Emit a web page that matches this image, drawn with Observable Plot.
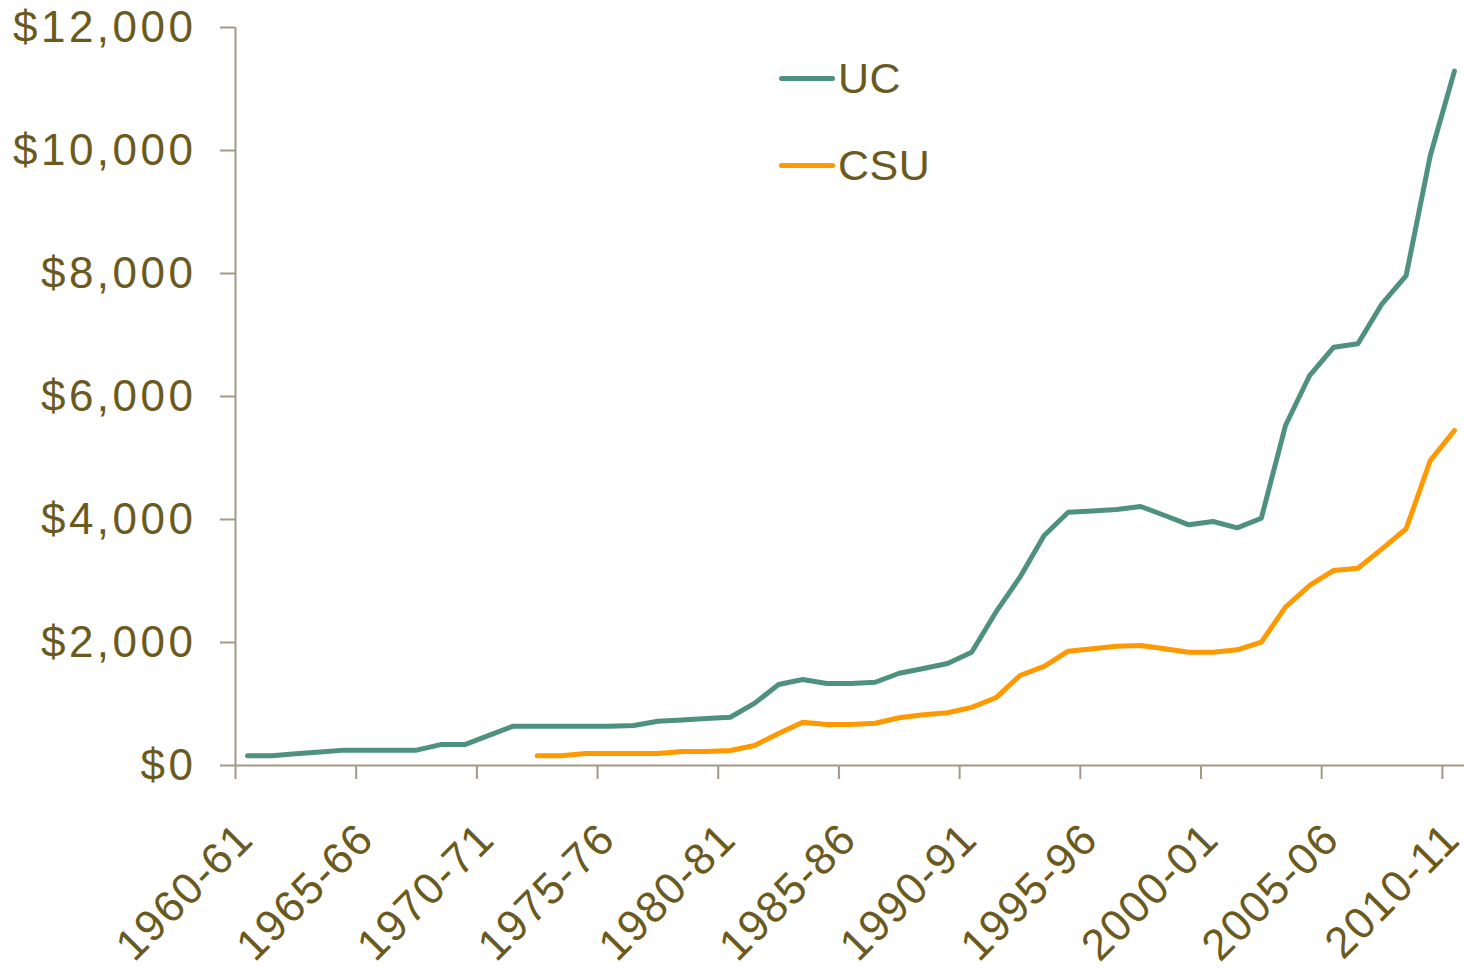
<!DOCTYPE html>
<html>
<head>
<meta charset="utf-8">
<script src="https://cdn.jsdelivr.net/npm/d3@7"></script>
<script src="https://cdn.jsdelivr.net/npm/@observablehq/plot@0.6"></script>
<style>
  html, body { margin: 0; padding: 0; background: #fff; }
  #wrap { position: relative; width: 1464px; height: 972px; font-family: "Liberation Sans", Arial, sans-serif; }
  #wrap svg { display: block; }
  #wrap svg g[aria-label="y-axis tick label"] text { letter-spacing: 3.5px; }
  #wrap svg g[aria-label="text"] text { letter-spacing: 1.5px; }
  .leg { position: absolute; display: flex; align-items: center; font-size: 43px; color: #6b5a20; letter-spacing: 0.5px; }
  .leg span.sw { display: inline-block; width: 56px; height: 5px; border-radius: 3px; margin-right: 3px; }
</style>
</head>
<body>
<div id="wrap"></div>
<script>
const years = ["1960-61","1961-62","1962-63","1963-64","1964-65","1965-66","1966-67","1967-68","1968-69","1969-70",
  "1970-71","1971-72","1972-73","1973-74","1974-75","1975-76","1976-77","1977-78","1978-79","1979-80",
  "1980-81","1981-82","1982-83","1983-84","1984-85","1985-86","1986-87","1987-88","1988-89","1989-90",
  "1990-91","1991-92","1992-93","1993-94","1994-95","1995-96","1996-97","1997-98","1998-99","1999-00",
  "2000-01","2001-02","2002-03","2003-04","2004-05","2005-06","2006-07","2007-08","2008-09","2009-10","2010-11"];

const ucFees = [160,160,190,220,250,250,250,250,340,340,
  490,640,640,640,640,640,650,720,740,764,
  785,1010,1317,1398,1333,1333,1354,1500,1577,1658,
  1842,2493,3062,3740,4119,4140,4163,4211,4065,3913,
  3967,3865,4021,5528,6341,6802,6857,7507,7967,9919,11290];

const csuFees = [null,null,null,null,null,null,null,null,null,null,
  null,null,160,160,195,195,195,195,228,228,
  244,325,520,704,667,667,688,776,824,857,
  945,1101,1463,1612,1858,1900,1940,1951,1897,1843,
  1843,1881,2005,2574,2927,3171,3208,3523,3849,4959,5447];

const tickLabels = ["1960-61","1965-66","1970-71","1975-76","1980-81","1985-86","1990-91","1995-96","2000-01","2005-06","2010-11"];
const yTicks = [0,2000,4000,6000,8000,10000,12000];
const seriesNames = ["UC","CSU"];
const seriesColors = ["#4f9180","#ff9900"];

const textColor = "#6b5a20";
const axisColor = "#a39a86";

const rows = [];
years.forEach((y, i) => {
  rows.push({year: y, idx: i, series: "UC", value: ucFees[i]});
  rows.push({year: y, idx: i, series: "CSU", value: csuFees[i]});
});
const labelRows = tickLabels.map(l => ({label: l, idx: years.indexOf(l)}));
const boundaryTicks = labelRows.map(d => d.idx);

const chart = Plot.plot({
  width: 1464,
  height: 972,
  marginLeft: 235,
  marginTop: 27,
  marginBottom: 207,
  marginRight: 0,
  style: {fontFamily: "'Liberation Sans', Arial, sans-serif", background: "#fff"},
  x: {domain: [0, years.length], range: [235, 1466], axis: null},
  y: {domain: [0, 12000], range: [765, 27], axis: null},
  marks: [
    Plot.axisY({ticks: yTicks, tickSize: 15, tickPadding: 24, label: null, tickFormat: d => "$" + d3.format(",")(d),
      fontSize: 44, fill: textColor, stroke: axisColor, strokeWidth: 2, strokeOpacity: 1}),
    Plot.axisX({ticks: boundaryTicks, tickSize: 14, label: null, tickFormat: () => "", stroke: axisColor, strokeWidth: 2, strokeOpacity: 1}),
    Plot.ruleY([0], {stroke: axisColor, strokeWidth: 2}),
    Plot.ruleX([0], {y1: 0, y2: 12000, stroke: axisColor, strokeWidth: 2}),
    Plot.text(labelRows, {x: d => d.idx + 0.5, y: () => 0, text: "label", rotate: -45, textAnchor: "end",
      lineAnchor: "middle", dy: 66, dx: -2, fontSize: 44, fill: textColor}),
    Plot.line(rows.filter(d => d.series === "CSU"), {x: d => d.idx + 0.5, y: "value", stroke: seriesColors[1],
      strokeWidth: 5, strokeLinecap: "round", strokeLinejoin: "round", defined: d => d.value != null}),
    Plot.line(rows.filter(d => d.series === "UC"), {x: d => d.idx + 0.5, y: "value", stroke: seriesColors[0],
      strokeWidth: 5, strokeLinecap: "round", strokeLinejoin: "round", defined: d => d.value != null})
  ]
});
const wrap = document.getElementById("wrap");
wrap.appendChild(chart);

const legendTops = [52, 139];
seriesNames.forEach((name, k) => {
  const div = document.createElement("div");
  div.className = "leg";
  div.style.left = "779px";
  div.style.top = legendTops[k] + "px";
  div.style.height = "52px";
  const sw = document.createElement("span");
  sw.className = "sw";
  sw.style.background = seriesColors[k];
  div.appendChild(sw);
  div.appendChild(document.createTextNode(name));
  wrap.appendChild(div);
});
</script>
</body>
</html>
